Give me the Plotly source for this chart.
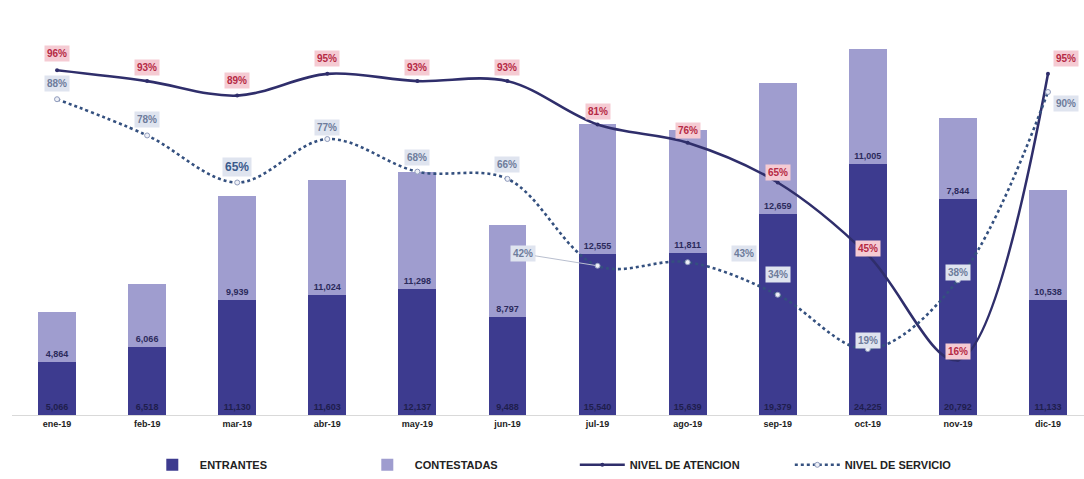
import plotly.graph_objects as go

# Monthly call-centre figures, 2019
months = ["ene-19", "feb-19", "mar-19", "abr-19", "may-19", "jun-19",
          "jul-19", "ago-19", "sep-19", "oct-19", "nov-19", "dic-19"]
entrantes = [5066, 6518, 11130, 11603, 12137, 9488,
             15540, 15639, 19379, 24225, 20792, 11133]
contestadas = [4864, 6066, 9939, 11024, 11298, 8797,
               12555, 11811, 12659, 11005, 7844, 10538]
nivel_atencion = [96, 93, 89, 95, 93, 93, 81, 76, 65, 45, 16, 95]
nivel_servicio = [88, 78, 65, 77, 68, 66, 42, 43, 34, 19, 38, 90]

# label offsets in pixels (x, y) for each month's percentage tag
atencion_offsets = [(0, 17), (0, 14), (0, 15), (0, 15), (0, 14), (0, 14),
                    (0, 13), (0, 12), (0, 10), (0, 6), (0, 8), (18, 15)]
servicio_offsets = [(0, 16), (0, 16), (0, 16), (0, 12), (0, 14), (0, 14),
                    (-75, 12), (56, 9), (0, 20), (0, 9), (0, 8), (18, -12)]

DARK = "#3d3b8f"
LIGHT = "#9f9dcf"
LINE_AT = "#2f2e6b"
LINE_SV = "#34507f"
FONT = "Liberation Sans, Arial, sans-serif"

fmt = lambda v: f"{v:,}"

fig = go.Figure()

fig.add_trace(go.Bar(
    x=months, y=entrantes, name="ENTRANTES",
    marker=dict(color=DARK, line=dict(width=0)), width=0.42,
    text=[fmt(v) for v in entrantes], textposition="inside",
    insidetextanchor="start", constraintext="none",
    textfont=dict(family=FONT, size=9, color="#1f1e4d", weight="bold"),
))
fig.add_trace(go.Bar(
    x=months, y=contestadas, name="CONTESTADAS",
    marker=dict(color=LIGHT, line=dict(width=0)), width=0.42,
    text=[fmt(v) for v in contestadas], textposition="inside",
    insidetextanchor="start", constraintext="none",
    textfont=dict(family=FONT, size=9, color="#2b2a5c", weight="bold"),
))
fig.add_trace(go.Scatter(
    x=months, y=nivel_atencion, name="NIVEL DE ATENCION", yaxis="y2",
    mode="lines+markers", line=dict(color=LINE_AT, width=2.6, shape="spline", smoothing=1.0),
    marker=dict(size=4, color=LINE_AT),
))
fig.add_trace(go.Scatter(
    x=months, y=nivel_servicio, name="NIVEL DE SERVICIO", yaxis="y2",
    mode="lines+markers", line=dict(color=LINE_SV, width=2.6, dash="dot", shape="spline", smoothing=1.0),
    marker=dict(size=5, color="#eef0f7", line=dict(color="#8e9abb", width=1)),
))

annotations = []
for i, m in enumerate(months):
    dx, dy = atencion_offsets[i]
    annotations.append(dict(
        x=m, y=nivel_atencion[i], yref="y2", xref="x",
        text=f"{nivel_atencion[i]}%", showarrow=False,
        xshift=dx, yshift=dy,
        font=dict(family=FONT, size=10, color="#b52a45", weight="bold"),
        bgcolor="#f5cbd3", borderpad=2,
    ))
for i, m in enumerate(months):
    dx, dy = servicio_offsets[i]
    big = i == 2
    ann = dict(
        x=m, y=nivel_servicio[i], yref="y2", xref="x",
        text=f"{nivel_servicio[i]}%",
        font=dict(family=FONT, size=12 if big else 10,
                  color="#3a5a8c" if big else "#6e7c9c", weight="bold"),
        bgcolor="#dfe4ef", borderpad=2,
    )
    if i == 6:
        ann.update(showarrow=True, ax=dx, ay=-dy, arrowhead=0,
                   arrowwidth=1, arrowcolor="#b9bfcf", standoff=2)
    else:
        ann.update(showarrow=False, xshift=dx, yshift=dy)
    annotations.append(ann)

fig.update_layout(
    width=1084, height=479,
    margin=dict(l=12, r=0, t=0, b=64, autoexpand=False),
    paper_bgcolor="white", plot_bgcolor="white",
    barmode="stack", bargap=0.58,
    font=dict(family=FONT, color="#222"),
    xaxis=dict(range=[-0.5, 11.4], showgrid=False, zeroline=False,
               showline=True, linecolor="#d9d9d9", linewidth=1,
               ticks="", tickfont=dict(family=FONT, size=9, color="#222", weight="bold")),
    yaxis=dict(range=[0, 40000], visible=False, showgrid=False),
    yaxis2=dict(range=[0.8, 115.4], overlaying="y", visible=False, showgrid=False),
    legend=dict(orientation="h", x=0.525, xanchor="center", y=-0.12, yanchor="middle",
                font=dict(family=FONT, size=11, color="#222", weight="bold"),
                itemwidth=45, entrywidth=155, traceorder="normal"),
    annotations=annotations,
    showlegend=True,
)

fig.write_html("out.html")
